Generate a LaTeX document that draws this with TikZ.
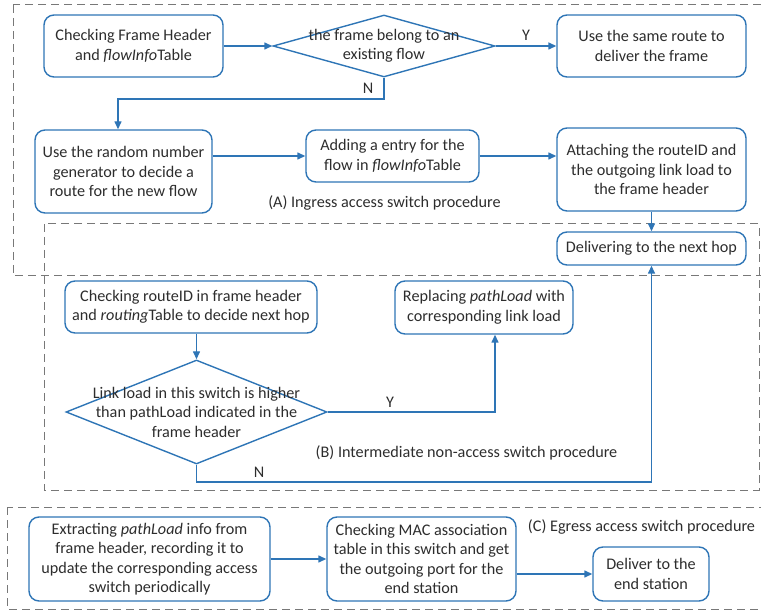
\documentclass[tikz,border=0pt]{standalone}
\usepackage{fontspec}
\setmainfont{Carlito}
\usetikzlibrary{arrows.meta,shapes.geometric}
\definecolor{flowblue}{RGB}{46,117,182}
\definecolor{txtgray}{RGB}{45,45,45}
\definecolor{framegray}{RGB}{120,120,120}

\begin{document}
\begin{tikzpicture}[x=1pt,y=-1pt,
  every node/.style={font=\fontsize{16.2}{19.5}\selectfont, text=txtgray},
  stepbox/.style={draw=flowblue, line width=1.4pt, rounded corners=10pt,
    align=center, inner sep=0pt},
  decision/.style={draw=flowblue, line width=1.4pt, diamond, inner sep=0pt},
  decisiontext/.style={align=center, inner sep=0pt},
  arr/.style={draw=flowblue, line width=1.4pt, -{Triangle[length=8pt,width=7pt]}},
  region/.style={draw=framegray, line width=1pt, dash pattern=on 8pt off 5pt},
  tag/.style={inner sep=0pt}
]
\useasboundingbox (0,0) rectangle (761,612);
\clip (0,0) rectangle (761,612);

% dashed regions of the three procedures
\draw[region] (13,5) rectangle (766,276);
\draw[region] (44,224) rectangle (759,490);
\draw[region] (7,507) rectangle (766,609);

% (A) ingress access switch
\node[stepbox, minimum width=179pt, minimum height=62pt] (n1) at (133.5,46)
  {Checking Frame Header\\and \textit{flowInfo}Table};
\node[decision, minimum width=222pt, minimum height=62pt] (d1) at (384,46) {};
\node[decisiontext] (d1t) at (384,46) {the frame belong to an\\existing flow};
\node[stepbox, minimum width=189pt, minimum height=62pt] (n2) at (651.5,46)
  {Use the same route to\\deliver the frame};
\node[stepbox, minimum width=177pt, minimum height=83pt] (n3) at (123.5,171.5)
  {Use the random number\\generator to decide a\\route for the new flow};
\node[stepbox, minimum width=173pt, minimum height=52pt] (n4) at (392.5,156)
  {Adding a entry for the\\flow in \textit{flowInfo}Table};
\node[stepbox, minimum width=189pt, minimum height=83pt] (n5) at (651.5,169.5)
  {Attaching the routeID and\\the outgoing link load to\\the frame header};
\node[stepbox, minimum width=189pt, minimum height=33pt] (n6) at (651.5,248.5)
  {Delivering to the next hop};
\node[tag] (la) at (384.5,203) {(A) Ingress access switch procedure};

% (B) intermediate non-access switch
\node[stepbox, minimum width=252pt, minimum height=52pt] (n7) at (191,307)
  {Checking routeID in frame header\\and \textit{routing}Table to decide next hop};
\node[decision, minimum width=261pt, minimum height=104pt] (d2) at (196.5,412) {};
\node[decisiontext] (d2t) at (196.5,412)
  {Link load in this switch is higher\\than pathLoad indicated in the\\frame header};
\node[stepbox, minimum width=178pt, minimum height=53pt] (n8) at (484,307.5)
  {Replacing \textit{pathLoad} with\\corresponding link load};
\node[tag] (lb) at (466.5,453) {(B) Intermediate non-access switch procedure};

% (C) egress access switch
\node[stepbox, minimum width=241pt, minimum height=84pt] (n9) at (149.5,559)
  {Extracting \textit{pathLoad} info from\\frame header, recording it to\\update the corresponding access\\switch periodically};
\node[stepbox, minimum width=189pt, minimum height=84pt] (n10) at (421.5,559)
  {Checking MAC association\\table in this switch and get\\the outgoing port for the\\end station};
\node[stepbox, minimum width=116pt, minimum height=54pt] (n11) at (651,574)
  {Deliver to the\\end station};
\node[tag] (lc) at (641.5,527) {(C) Egress access switch procedure};

% connectors
\draw[arr] (n1.east) -- (d1.west);
\draw[arr] (d1.east) -- node[tag, pos=0.5, yshift=11pt] (ly1) {Y} (n2.west);
\draw[arr] (d1.south) -- (384,99) -| ([xshift=-5.5pt]n3.north);
\node[tag] (ln1) at (368,88) {N};
\draw[arr] (n3.east |- n4.west) -- (n4.west);
\draw[arr] (n4.east) -- (n4.east -| n5.west);
\draw[arr] (n5.south) -- (n6.north);

\draw[arr] (d2.north |- n7.south) -- (d2.north);
\draw[arr] (d2.east) -| ([xshift=11pt]n8.south);
\node[tag] (ly2) at (390,402) {Y};
\draw[arr] (d2.south) -- (196.5,482) -| (n6.south);
\node[tag] (ln2) at (259,472) {N};

\draw[arr] (n9.east) -- (n10.west);
\draw[arr] (n10.east |- n11.west) -- (n11.west);
\end{tikzpicture}
\end{document}
